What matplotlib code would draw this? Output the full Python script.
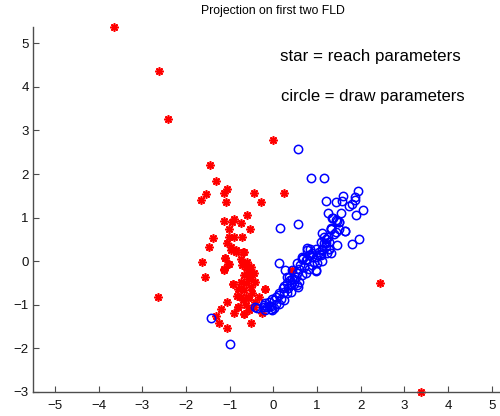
import matplotlib
matplotlib.use("Agg")
import matplotlib.pyplot as plt

plt.rcParams['font.family'] = ['Liberation Sans', 'DejaVu Sans']

# reach parameters (stars)
reach_x = [-3.65, -2.62, -2.41, 0.0, -1.45, -1.32, -1.07, -1.14, -1.53, -1.66,
           -0.45, 0.24, -1.09, -0.29, -0.61, -1.14, -0.94, -0.89, -0.73, -0.54,
           -1.02, -1.39, -1.48, -1.64, -1.57, -1.11, -1.14, -1.02, -0.98, -0.86,
           -0.69, -0.93, -0.84, -0.20, -0.75, -1.07, -1.19, -1.32, -0.82, -0.91,
           -0.68, -0.57, -0.41, -0.25, -0.52, -1.25, -1.07, -2.64, 2.43, 3.39,
           -1.02, -0.90, -0.71, -1.07, -0.98, -0.86, -0.67, -1.11, -1.04, -1.13,
           -0.75, -0.71, -0.63, -0.52, -0.59, -0.67, -0.52, -0.44, -0.75, -0.63,
           -0.52, -0.41, -0.92, -0.82, -0.67, -0.48, -0.59, -0.75, -0.82, -0.63,
           -0.56, -0.44, -0.67, -0.33, 0.43, -0.19, -0.60, -0.55, -0.70]
reach_y = [5.37, 4.36, 3.26, 2.78, 2.20, 1.83, 1.65, 1.56, 1.54, 1.40,
           1.56, 1.56, 1.35, 1.35, 1.06, 0.92, 0.90, 0.96, 0.87, 0.73,
           0.73, 0.53, 0.32, -0.02, -0.37, 0.07, -0.18, -0.07, 0.25, 0.21,
           0.21, -0.53, -0.80, -0.64, -0.62, -0.94, -1.10, -1.26, -1.06, -1.19,
           -1.22, -0.85, -0.94, -1.19, -1.42, -1.42, -1.54, -0.83, -0.50, -3.00,
           0.56, 0.56, 0.56, 0.41, 0.33, 0.25, 0.21, 0.08, -0.07, -0.19,
           0.06, -0.09, -0.13, -0.13, -0.25, -0.32, -0.36, -0.28, -0.47, -0.51,
           -0.59, -0.47, -0.53, -0.63, -0.67, -0.74, -0.82, -0.82, -1.05, -1.01,
           -1.12, -1.05, -1.20, -0.82, -0.21, -0.63, -0.02, -0.40, -0.90]

# draw parameters (circles)
draw_x = [0.57, 0.86, 1.17, 1.94, 1.21, 1.44, 1.58, 1.73, 1.81, 1.87,
          2.06, 1.24, 1.54, 1.90, 1.35, 1.43, 1.50, 0.16, 0.57, 1.31,
          1.65, 1.12, 1.24, 1.39, 1.97, 1.81, 1.45, 1.20, 1.27, 0.78,
          0.85, 0.97, 1.12, 1.07, 0.68, 0.78, 0.89, 0.93, 1.01, 1.12,
          0.14, 0.62, 0.70, 0.97, 0.27, 0.43, 0.55, 0.66, 0.74, 0.32,
          0.38, 0.47, 0.57, 0.24, 0.33, 0.40, 0.14, 0.05, -0.02, -0.18,
          -0.10, -0.22, -0.06, 0.01, -0.43, 0.59, 0.55, 0.36, 0.43, 0.51,
          0.32, 0.40, 0.47, 0.21, 0.24, 0.32, 0.13, 0.17, 0.24, 0.01,
          0.05, 0.13, -0.10, -0.06, -0.14, -0.22, -0.18, -0.02, -0.37, 0.74,
          0.66, 0.81, 0.78, 0.89, 0.97, 1.04, 1.12, 1.08, 1.16, 0.97,
          0.89, 0.81, 0.55, 0.59, 1.37, 1.45, 1.50, 1.31, 1.31, 1.65,
          1.50, 1.43, 1.20, 1.27, 1.16, 1.20, 1.27, 1.23, 0.66, 0.85,
          1.08, 1.31, -1.43, -1.00, 1.87, 1.60]
draw_y = [2.58, 1.90, 1.92, 1.61, 1.38, 1.36, 1.38, 1.26, 1.32, 1.40,
          1.17, 1.11, 1.11, 1.06, 1.00, 0.94, 0.90, 0.76, 0.85, 0.76,
          0.70, 0.64, 0.56, 0.62, 0.50, 0.40, 0.37, 0.41, 0.29, 0.31,
          0.28, 0.28, 0.25, 0.16, 0.08, 0.06, 0.10, -0.02, -0.05, 0.00,
          -0.04, -0.09, -0.13, -0.23, -0.19, -0.19, -0.28, -0.32, -0.28, -0.36,
          -0.42, -0.40, -0.59, -0.57, -0.61, -0.70, -0.74, -0.82, -0.86, -0.95,
          -1.03, -1.05, -1.10, -1.08, -1.06, -0.17, -0.05, -0.36, -0.40, -0.36,
          -0.51, -0.55, -0.53, -0.61, -0.70, -0.74, -0.78, -0.86, -0.89, -0.89,
          -0.97, -0.99, -0.93, -1.03, -1.05, -1.01, -1.12, -1.12, -1.07, 0.02,
          0.06, 0.14, 0.25, 0.18, 0.10, 0.21, 0.29, 0.44, 0.56, -0.21,
          -0.09, -0.17, -0.55, -0.47, 0.99, 0.92, 0.90, 0.75, 0.75, 0.69,
          0.73, 0.67, 0.52, 0.44, 0.41, 0.34, 0.27, 0.18, 0.10, 0.14,
          0.14, 0.18, -1.31, -1.90, 1.48, 1.50]

fig = plt.figure(figsize=(5.0, 4.16), dpi=100)
ax = fig.add_axes([0.066, 0.0577, 0.9614, 0.877])

ax.plot(reach_x, reach_y, linestyle='none', marker=(8, 2, 0), markersize=6,
        color='red', markeredgewidth=1.2, clip_on=False)
ax.plot(draw_x, draw_y, linestyle='none', marker='o', markersize=6,
        markerfacecolor='none', markeredgecolor='blue', markeredgewidth=1.1,
        clip_on=False)

ax.set_xlim(-5.5, 5.5)
ax.set_ylim(-3.0, 5.37)
ax.set_xticks(range(-5, 6))
ax.set_yticks(range(-3, 6))
ax.set_xticklabels(['\u2212%d' % -v if v < 0 else str(v) for v in range(-5, 6)])
ax.set_yticklabels(['\u2212%d' % -v if v < 0 else str(v) for v in range(-3, 6)])

for side in ['top', 'right']:
    ax.spines[side].set_visible(False)
for side in ['left', 'bottom']:
    ax.spines[side].set_color('#4d4d4d')
    ax.spines[side].set_linewidth(1.0)
ax.tick_params(direction='in', length=4, width=0.8, color='#4d4d4d',
               labelsize=9.5, labelcolor='#111111')
ax.tick_params(axis='x', pad=6)
ax.tick_params(axis='y', pad=3)

ax.set_title('Projection on first two FLD', fontsize=8.8, pad=9.5)
ax.text(0.16, 4.70, 'star = reach parameters', fontsize=12.2, va='center')
ax.text(0.17, 3.78, 'circle = draw parameters', fontsize=12.0, va='center')

fig.savefig('out.png', dpi=100)
